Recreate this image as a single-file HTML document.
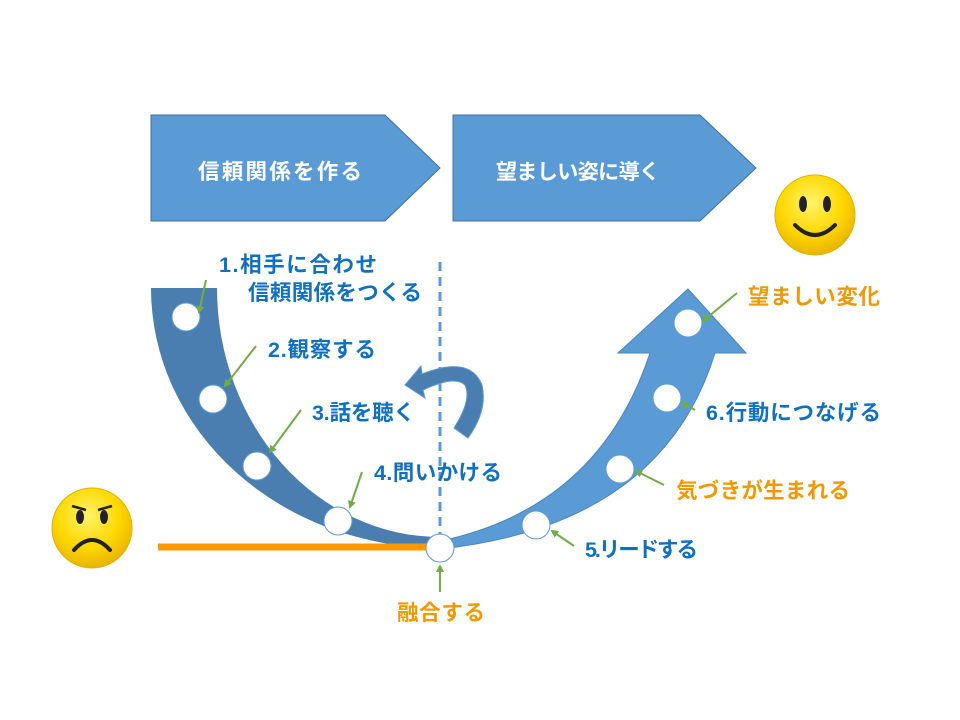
<!DOCTYPE html>
<html><head><meta charset="utf-8"><style>
body{margin:0;background:#fff}
svg{display:block}
text{font-family:"Liberation Sans","Noto Sans CJK JP",sans-serif;font-weight:bold}
</style></head><body>
<svg width="960" height="720" viewBox="0 0 960 720">
<defs>
<radialGradient id="y" cx="45%" cy="35%" r="65%"><stop offset="0" stop-color="#fff36a"/><stop offset="0.6" stop-color="#ffd800"/><stop offset="1" stop-color="#e8b400"/></radialGradient>
<marker id="ga" markerWidth="8" markerHeight="8" refX="6" refY="4" orient="auto" markerUnits="userSpaceOnUse"><path d="M0,0 L8,4 L0,8 Z" fill="#70ad47"/></marker>
</defs>
<path d="M151,115 H385 L440,168 L385,221 H151 Z" fill="#5b9bd5" stroke="#41719c" stroke-width="1"/>
<path d="M453,115 H700 L756,168 L700,221 H453 Z" fill="#5b9bd5" stroke="#41719c" stroke-width="1"/>
<text x="198" y="179" fill="#fff" font-size="21.5" textLength="164">信頼関係を作る</text>
<text x="496" y="179" fill="#fff" font-size="21" textLength="164">望ましい姿に導く</text>
<line x1="440" y1="262" x2="440" y2="536" stroke="#5b9bd5" stroke-width="3" stroke-dasharray="9,6"/>
<path d="M151,288 A289,260 0 0 0 440,548 L440,537 A223,249 0 0 1 217,288 Z" fill="#4a7eb0"/>
<line x1="158" y1="547" x2="432" y2="547" stroke="#ff9900" stroke-width="7"/>
<path d="M440,549 Q662,525 715,353 H746 L688,289 L618,353 H650 Q600,505 445,540 Z" fill="#5b9bd5" stroke="#4a86c0" stroke-width="1"/>
<path d="M405,385 L421,366 L422,374 Q470,355 482,385 Q488,410 468,438 L454,428 Q472,400 465,385 Q455,375 423,390 L425,398 Z" fill="#4a7eb0" stroke="#5b9bd5" stroke-width="1"/>
<g fill="#fff" stroke="#5b9bd5" stroke-width="1">
<circle cx="186" cy="317" r="14"/><circle cx="213" cy="399" r="14"/><circle cx="257" cy="466" r="14"/><circle cx="338" cy="521" r="14"/>
<circle cx="440" cy="548" r="14"/>
<circle cx="536" cy="525" r="14"/><circle cx="620" cy="469" r="14"/><circle cx="667" cy="398" r="14"/><circle cx="688" cy="323" r="14"/>
</g>
<g stroke="#70ad47" stroke-width="2" marker-end="url(#ga)">
<line x1="206" y1="280" x2="199" y2="312"/>
<line x1="256" y1="346" x2="225" y2="386"/>
<line x1="301" y1="410" x2="270" y2="452"/>
<line x1="362" y1="472" x2="350" y2="507"/>
<line x1="440" y1="592" x2="440" y2="566"/>
<line x1="574" y1="546" x2="552" y2="531"/>
<line x1="664" y1="485" x2="636" y2="471"/>
<line x1="695" y1="410" x2="682" y2="403"/>
<line x1="737" y1="293" x2="703" y2="321"/>
</g>
<g fill="#1170c0" font-size="21.5">
<text x="219" y="272" textLength="158">1.相手に合わせ</text>
<text x="248" y="300" textLength="174">信頼関係をつくる</text>
<text x="268" y="357" textLength="108">2.観察する</text>
<text x="312" y="420" textLength="103">3.話を聴く</text>
<text x="374" y="480" textLength="128">4.問いかける</text>
<text x="585" y="557" textLength="113">5.リードする</text>
<text x="706" y="420" textLength="175">6.行動につなげる</text>
</g>
<g fill="#f39800" font-size="21.5">
<text x="748" y="304" textLength="132">望ましい変化</text>
<text x="676" y="498" textLength="174">気づきが生まれる</text>
<text x="397" y="620" textLength="88">融合する</text>
</g>
<circle cx="815" cy="215" r="40" fill="url(#y)" stroke="#e0b000" stroke-width="1"/>
<ellipse cx="803" cy="204" rx="4" ry="8" fill="#222"/>
<ellipse cx="827" cy="204" rx="4" ry="8" fill="#222"/>
<path d="M795,225 Q815,245 835,225" stroke="#222" stroke-width="4" fill="none" stroke-linecap="round"/>
<circle cx="92" cy="528" r="40" fill="url(#y)" stroke="#e0b000" stroke-width="1"/>
<ellipse cx="80" cy="517" rx="4" ry="7" fill="#222"/>
<ellipse cx="104" cy="517" rx="4" ry="7" fill="#222"/>
<path d="M72,506 L86,510 M98,510 L112,506" stroke="#222" stroke-width="2.5"/>
<path d="M74,550 Q92,530 110,550" stroke="#222" stroke-width="4" fill="none" stroke-linecap="round"/>
</svg>
</body></html>
